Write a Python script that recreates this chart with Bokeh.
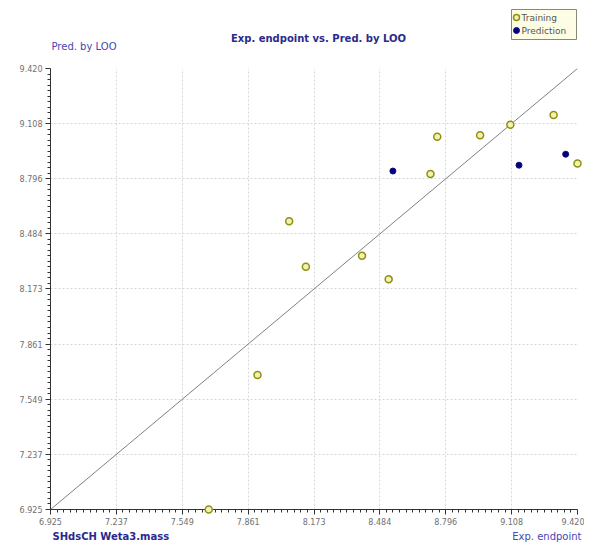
import numpy as np
from bokeh.plotting import figure
from bokeh.models import Range1d, FixedTicker
from bokeh.core.properties import value
from bokeh.embed import file_html
from bokeh.resources import INLINE

# ---- data ----
train_x = [7.674, 7.905, 8.055, 8.134, 8.400, 8.526, 8.724, 8.756, 8.959, 9.102, 9.307, 9.420]
train_y = [6.925, 7.686, 8.556, 8.299, 8.360, 8.227, 8.823, 9.034, 9.042, 9.102, 9.157, 8.882]
pred_x = [8.546, 9.143, 9.364]
pred_y = [8.840, 8.873, 8.935]
ideal = [6.925, 9.420]
tick_values = [6.925, 7.237, 7.549, 7.861, 8.173, 8.484, 8.796, 9.108, 9.420]
tick_labels = ["6.925", "7.237", "7.549", "7.861", "8.173", "8.484", "8.796", "9.108", "9.420"]
series_names = ["Training", "Prediction"]

title_text = "Exp. endpoint vs. Pred. by LOO"
y_title = "Pred. by LOO"
x_title = "Exp. endpoint"
descriptor = "SHdsCH  Weta3.mass"

BOLD_BLUE = "#2a2a8c"
BLUE = "#4646b4"
FONT = "DejaVu Sans"
TRAIN_LINE, TRAIN_FILL = "#8f8f10", "#f2f2b0"
PRED_LINE, PRED_FILL = "#10107a", "#000080"

W, H = 584, 542
BL, BR, BT, BB = 50, 7, 68, 33
FW, FH = W - BL - BR, H - BT - BB

p = figure(width=W, height=H, output_backend="svg", toolbar_location=None,
           x_range=Range1d(ideal[0], ideal[1]), y_range=Range1d(ideal[0], ideal[1]),
           min_border_left=BL, min_border_right=BR, min_border_top=BT, min_border_bottom=BB)
p.outline_line_color = None
p.background_fill_color = "white"

minor = []
for a, b in zip(tick_values[:-1], tick_values[1:]):
    minor.extend(np.linspace(a, b, 11)[1:-1].tolist())
overrides = {v: l for v, l in zip(tick_values, tick_labels)}

for ax in (p.xaxis[0], p.yaxis[0]):
    ax.ticker = FixedTicker(ticks=tick_values, minor_ticks=minor)
    ax.major_label_overrides = overrides
    ax.axis_line_color = "#333333"
    ax.major_tick_line_color = "#333333"
    ax.minor_tick_line_color = "#333333"
    ax.major_tick_out = 5
    ax.major_tick_in = 0
    ax.minor_tick_out = 3
    ax.minor_tick_in = 0
    ax.major_label_text_font = FONT
    ax.major_label_text_font_size = "8px"
    ax.major_label_text_color = "#707070"
    ax.major_label_standoff = 3

p.yaxis[0].major_label_orientation = "horizontal"

for g in (p.xgrid[0], p.ygrid[0]):
    g.ticker = FixedTicker(ticks=tick_values)
    g.grid_line_color = "#d6d6d6"
    g.grid_line_dash = "2 2"
    g.grid_line_width = 1

p.line(ideal, ideal, line_color="#808080", line_width=1)

p.scatter(train_x, train_y, size=7, marker="circle",
          line_color=TRAIN_LINE, fill_color=TRAIN_FILL, line_width=1.5, level="overlay")
p.scatter(pred_x, pred_y, size=6, marker="circle",
          line_color=PRED_LINE, fill_color=PRED_FILL, line_width=1, level="overlay")

# ---- texts outside the frame: anchored at frame corners with pixel offsets ----
def add_text(ax_, ay_, dx, dy, text, bold, color, align, size="10px"):
    p.text(x=[ax_], y=[ay_], text=[text], x_offset=dx, y_offset=dy,
           text_font=value(FONT), text_font_style="bold" if bold else "normal",
           text_font_size=size, text_color=color, text_align=align,
           text_baseline="middle", level="overlay")

add_text(ideal[0], ideal[1], 268, -30, title_text, True, BOLD_BLUE, "center")
add_text(ideal[0], ideal[1], 1, -22, y_title, False, BLUE, "left")
add_text(ideal[0], ideal[0], 2, 27, descriptor, True, BOLD_BLUE, "left")
add_text(ideal[1], ideal[0], 4, 27, x_title, False, BLUE, "right")

# ---- legend (top right, outside the frame) ----
ux = (ideal[1] - ideal[0]) / FW   # data units per pixel
uy = (ideal[1] - ideal[0]) / FH
def px2x(px):
    return ideal[0] + (px - BL) * ux
def py2y(py):
    return ideal[1] - (py - BT) * uy

p.rect(x=[px2x(543.5)], y=[py2y(24)], width=65, height=30,
       width_units="screen", height_units="screen",
       fill_color="#fdfde6", line_color="#888877", line_width=1, level="overlay")
p.rect(x=[px2x(516)], y=[py2y(17)], width=6, height=6,
       width_units="screen", height_units="screen", border_radius=3,
       line_color=TRAIN_LINE, fill_color=TRAIN_FILL, line_width=1.5, level="overlay")
p.rect(x=[px2x(516)], y=[py2y(30)], width=6, height=6,
       width_units="screen", height_units="screen", border_radius=3,
       line_color=PRED_LINE, fill_color=PRED_FILL, line_width=1, level="overlay")
add_text(ideal[1], ideal[1], -56, -51, series_names[0], False, "#555555", "left", "9px")
add_text(ideal[1], ideal[1], -56, -38, series_names[1], False, "#555555", "left", "9px")

open("out.html", "w").write(file_html(p, INLINE))
